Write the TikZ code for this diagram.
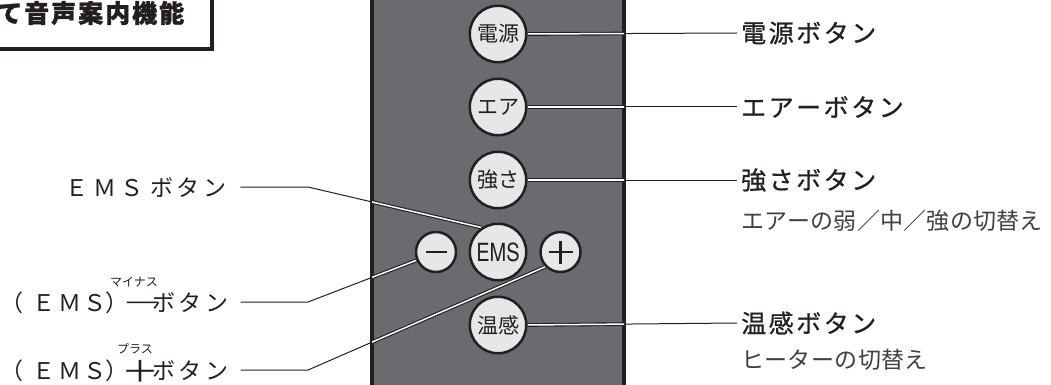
\documentclass[tikz,border=0pt]{standalone}
\usepackage{fontspec}
\setmainfont{Noto Sans CJK JP}
\newfontfamily\jpf{Noto Sans CJK JP}
\newfontfamily\jpm[FakeBold=0.8]{Noto Sans CJK JP}
\newfontfamily\jpt[BoldFeatures={FakeBold=1.2}]{Noto Sans CJK JP}
\newfontfamily\emsf[FakeStretch=0.8]{TeX Gyre Heros}
\makeatletter
\newcommand\trk[2]{\def\trk@w{#1}\trk@loop#2\relax}
\def\trk@loop#1{\ifx\relax#1\else\makebox[\trk@w][l]{#1}\expandafter\trk@loop\fi}
\makeatother
\newcommand\cb[2]{\makebox[#1][l]{#2}}
\newcommand\fbtn{\jpf\fontsize{21}{21}\selectfont}
\newcommand\flab{\jpf\fontsize{23}{23}\selectfont}
\newcommand\frlab{\jpm\fontsize{25}{25}\selectfont}
\newcommand\fsub{\jpf\fontsize{23}{23}\selectfont}
\newcommand\ftitle{\jpt\bfseries\fontsize{25}{25}\selectfont}
\newcommand\fruby{\jpf\fontsize{12}{12}\selectfont}
\newcommand\fems{\emsf\fontsize{25}{25}\selectfont}
\newcommand\wminus{\hspace{-1pt}\scalebox{1.85}[1]{－}}
\newcommand\wplus{\hspace{-0.5pt}\raisebox{-2.5pt}{\scalebox{1.65}[1.3]{＋}}}
\definecolor{ink}{HTML}{231F20}
\definecolor{subink}{HTML}{404040}
\definecolor{panelfill}{HTML}{6A6B6F}
\definecolor{btnfill}{HTML}{E6E7E8}
\pgfdeclarelayer{back}
\pgfdeclarelayer{lines}
\pgfsetlayers{back,lines,main}
\begin{document}
\begin{tikzpicture}[x=1pt,y=-1pt,
  btn/.style={circle, draw=ink, line width=2.5pt, fill=btnfill, inner sep=0pt, minimum size=56.5pt, font=\fbtn, text=ink},
  sbtn/.style={circle, draw=ink, line width=2.5pt, fill=btnfill, inner sep=0pt, minimum size=40pt},
  rlab/.style={anchor=west, inner sep=0pt, font=\frlab, text=ink},
  rsub/.style={anchor=west, inner sep=0pt, font=\fsub, text=subink},
  llab/.style={anchor=west, inner sep=0pt, font=\flab, text=ink},
  rubytext/.style={inner sep=0pt, font=\fruby, text=ink},
  lead/.style={draw=ink, line width=1pt},
  leadin/.style={draw=ink, line width=1.1pt, double=white, double distance=1.5pt},
  sign/.style={draw=ink, line width=2.6pt}
]
\useasboundingbox (0,0) rectangle (1051,385);
\begin{pgfonlayer}{back}
  \fill[panelfill] (372,-10) rectangle (624,395);
  \draw[ink, line width=4pt] (372,-10) -- (372,395) (624,-10) -- (624,395);
\end{pgfonlayer}

% title box
\draw[ink, line width=4pt] (-10,-10) rectangle (212,49);
\node[font=\ftitle, text=ink, anchor=west, inner sep=0pt] (title) at (-3,13) {\trk{27pt}{て音声案内機能}};

% buttons
\node[btn] (pwr) at (498,34) {電源};
\node[btn] (air) at (498,107) {エア};
\node[btn] (str) at (498,180) {強さ};
\node[btn, font=\fems] (ems) at (498,252) {EMS};
\node[sbtn] (minus) at (436,252) {};
\node[sbtn] (plus) at (560.5,252) {};
\node[btn] (warm) at (498,325) {温感};
\draw[sign] ([xshift=-10.5pt]minus.center) -- ([xshift=10.5pt]minus.center);
\draw[sign] ([xshift=-12pt]plus.center) -- ([xshift=12pt]plus.center);
\draw[sign] ([yshift=-11.5pt]plus.center) -- ([yshift=11.5pt]plus.center);

% right labels
\node[rlab] (pwrL) at (741,33) {\trk{27.5pt}{電源ボタン}};
\node[rlab] (airL) at (741,107) {\trk{27.5pt}{エアーボタン}};
\node[rlab] (strL) at (741,180) {\trk{27.5pt}{強さボタン}};
\node[rsub] (strS) at (741,221) {\trk{23.2pt}{エアーの弱／中／強の切替え}};
\node[rlab] (warmL) at (741,323) {\trk{27.5pt}{温感ボタン}};
\node[rsub] (warmS) at (741,360) {\trk{23.4pt}{ヒーターの切替え}};

% left labels
\node[llab] (emsL) at (65.5,187.5) {\cb{27.5pt}{Ｅ}\cb{27.5pt}{Ｍ}\cb{29.5pt}{Ｓ}\cb{26pt}{ボ}\cb{27pt}{タ}\cb{27pt}{ン}};
\node[llab] (minusL) at (0,303) {\cb{32.5pt}{（}\cb{26pt}{Ｅ}\cb{25pt}{Ｍ}\cb{22pt}{Ｓ}\cb{16.6pt}{）}\cb{30pt}{\wminus}\cb{26pt}{ボ}\cb{27pt}{タ}\cb{25pt}{ン}};
\node[llab] (plusL) at (0,371) {\cb{32.5pt}{（}\cb{26pt}{Ｅ}\cb{25pt}{Ｍ}\cb{22pt}{Ｓ}\cb{16.6pt}{）}\cb{30pt}{\wplus}\cb{26pt}{ボ}\cb{27pt}{タ}\cb{25pt}{ン}};
\node[rubytext] (minusR) at (134,282) {マイナス};
\node[rubytext] (plusR) at (135,349) {プラス};

\coordinate (emsB) at (308,187);
\coordinate (minusB) at (308,302);
\coordinate (plusB) at (308,370);

\begin{pgfonlayer}{lines}
  \draw[lead] ([xshift=10pt]emsL.east |- emsB) -- (emsB) -- (ems.124);
  \draw[lead] ([xshift=10pt]minusL.east |- minusB) -- (minusB) -- (minus.203);
  \draw[lead] ([xshift=10pt]plusL.east |- plusB) -- (plusB) -- (plus.224);
  \draw[lead] (pwr.east) -- ([xshift=-4pt]pwrL.west);
  \draw[lead] (air.east) -- ([xshift=-4pt]airL.west);
  \draw[lead] (str.east) -- ([xshift=-4pt]strL.west);
  \draw[lead] (warm.east) -- ([xshift=-4pt]warmL.west);
  \begin{scope}
    \clip (372,-10) rectangle (624,395);
    \draw[leadin] (emsB) -- (ems.124);
    \draw[leadin] (minusB) -- (minus.203);
    \draw[leadin] (plusB) -- (plus.224);
    \draw[leadin] (pwr.east) -- ([xshift=-4pt]pwrL.west);
    \draw[leadin] (air.east) -- ([xshift=-4pt]airL.west);
    \draw[leadin] (str.east) -- ([xshift=-4pt]strL.west);
    \draw[leadin] (warm.east) -- ([xshift=-4pt]warmL.west);
  \end{scope}
\end{pgfonlayer}
\end{tikzpicture}
\end{document}
